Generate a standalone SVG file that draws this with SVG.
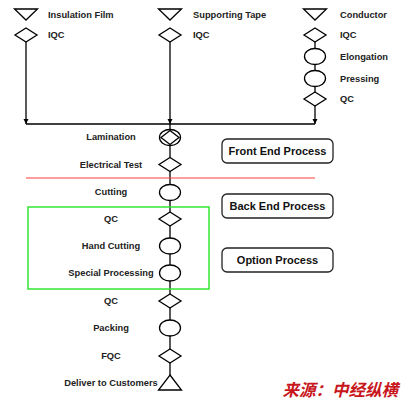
<svg xmlns="http://www.w3.org/2000/svg" width="404" height="404" viewBox="0 0 404 404">
<defs>
<style>
.s{fill:#fff;stroke:#000;stroke-width:1.3}
.c{stroke:#000;stroke-width:1.3;fill:none}
.t{font-family:"Liberation Sans",Arial,sans-serif;font-weight:bold;font-size:9.3px;fill:#222}
.m{text-anchor:middle}
.b{fill:#fff;stroke:#222;stroke-width:1.3}
.bt{font-family:"Liberation Sans",Arial,sans-serif;font-weight:bold;font-size:11px;fill:#111;text-anchor:middle}
</style>
<marker id="ar" viewBox="0 0 10 10" refX="10" refY="5" markerWidth="5" markerHeight="6" orient="auto" markerUnits="userSpaceOnUse">
<path d="M0,0 L10,5 L0,10 z" fill="#000"/>
</marker>
</defs>
<rect width="404" height="404" fill="#fff"/>
<g id="connectors">
<line class="c" x1="26" y1="42" x2="26" y2="124" marker-end="url(#ar)"/>
<line class="c" x1="170" y1="42" x2="170" y2="124" marker-end="url(#ar)"/>
<line class="c" x1="315" y1="42" x2="315" y2="106"/>
<line class="c" x1="315" y1="106" x2="315" y2="124" marker-end="url(#ar)"/>
<line class="c" x1="26" y1="124" x2="315" y2="124"/>
<line class="c" x1="170" y1="124" x2="170" y2="375"/>
</g>
<line id="divider" x1="26" y1="178" x2="315" y2="178" stroke="#ff3b3b" stroke-width="1.2"/>
<rect id="option-frame" x="28" y="207" width="181" height="82" fill="none" stroke="#33e633" stroke-width="1.5"/>
<g id="insulation-film"><path class="s" d="M14.5,9 L37.5,9 L26,20 z"/><text class="t" x="48" y="17.5">Insulation Film</text></g>
<g id="iqc1"><path class="s" d="M26,28 L37,35 L26,42 L15,35 z"/><text class="t" x="48" y="38">IQC</text></g>
<g id="supporting-tape"><path class="s" d="M158.5,9 L181.5,9 L170,20 z"/><text class="t" x="193" y="17.5">Supporting Tape</text></g>
<g id="iqc2"><path class="s" d="M170,28 L181,35 L170,42 L159,35 z"/><text class="t" x="193" y="38">IQC</text></g>
<g id="conductor"><path class="s" d="M303.5,9 L326.5,9 L315,20 z"/><text class="t" x="340" y="17.5">Conductor</text></g>
<g id="iqc3"><path class="s" d="M315,28 L326,35 L315,42 L304,35 z"/><text class="t" x="340" y="38">IQC</text></g>
<g id="elongation"><ellipse class="s" cx="315" cy="56.5" rx="10.5" ry="8"/><text class="t" x="340" y="59.5">Elongation</text></g>
<g id="pressing"><ellipse class="s" cx="315" cy="78.5" rx="10.5" ry="8"/><text class="t" x="340" y="81.5">Pressing</text></g>
<g id="qc-conductor"><path class="s" d="M315,92 L326,99 L315,106 L304,99 z"/><text class="t" x="340" y="102">QC</text></g>
<g id="lamination"><ellipse class="s" cx="170" cy="137.5" rx="10.5" ry="8"/><path class="s" d="M170,130.5 L179,137.5 L170,144.5 L161,137.5 z"/><text class="t m" x="111" y="140">Lamination</text></g>
<g id="electrical-test"><path class="s" d="M170,157.5 L181,164.5 L170,171.5 L159,164.5 z"/><text class="t m" x="111" y="167.5">Electrical Test</text></g>
<g id="cutting"><ellipse class="s" cx="170" cy="192.5" rx="10.5" ry="8"/><text class="t m" x="111" y="195">Cutting</text></g>
<g id="qc-a"><path class="s" d="M170,212 L181,219 L170,226 L159,219 z"/><text class="t m" x="111" y="222">QC</text></g>
<g id="hand-cutting"><ellipse class="s" cx="170" cy="246" rx="10.5" ry="8"/><text class="t m" x="111" y="249">Hand Cutting</text></g>
<g id="special-processing"><ellipse class="s" cx="170" cy="273" rx="10.5" ry="8"/><text class="t m" x="111" y="275.5">Special Processing</text></g>
<g id="qc-b"><path class="s" d="M170,294 L181,301 L170,308 L159,301 z"/><text class="t m" x="111" y="304">QC</text></g>
<g id="packing"><ellipse class="s" cx="170" cy="328" rx="10.5" ry="8"/><text class="t m" x="111" y="331">Packing</text></g>
<g id="fqc"><path class="s" d="M170,349 L181,356 L170,363 L159,356 z"/><text class="t m" x="111" y="358.5">FQC</text></g>
<g id="deliver"><path class="s" d="M170,375 L181.5,390 L158.5,390 z"/><text class="t m" x="111" y="386">Deliver to Customers</text></g>
<g id="front-end"><rect class="b" x="222" y="139" width="111" height="24" rx="5"/><text class="bt" x="277.5" y="155">Front End Process</text></g>
<g id="back-end"><rect class="b" x="222" y="194" width="111" height="24" rx="5"/><text class="bt" x="277.5" y="210">Back End Process</text></g>
<g id="option"><rect class="b" x="222" y="248" width="111" height="24" rx="5"/><text class="bt" x="277.5" y="264">Option Process</text></g>
<text x="398" y="396" text-anchor="end" font-family="'Noto Sans CJK SC',sans-serif" font-weight="bold" font-style="italic" font-size="16.5" fill="#c8161d">来源：中经纵横</text>
</svg>
